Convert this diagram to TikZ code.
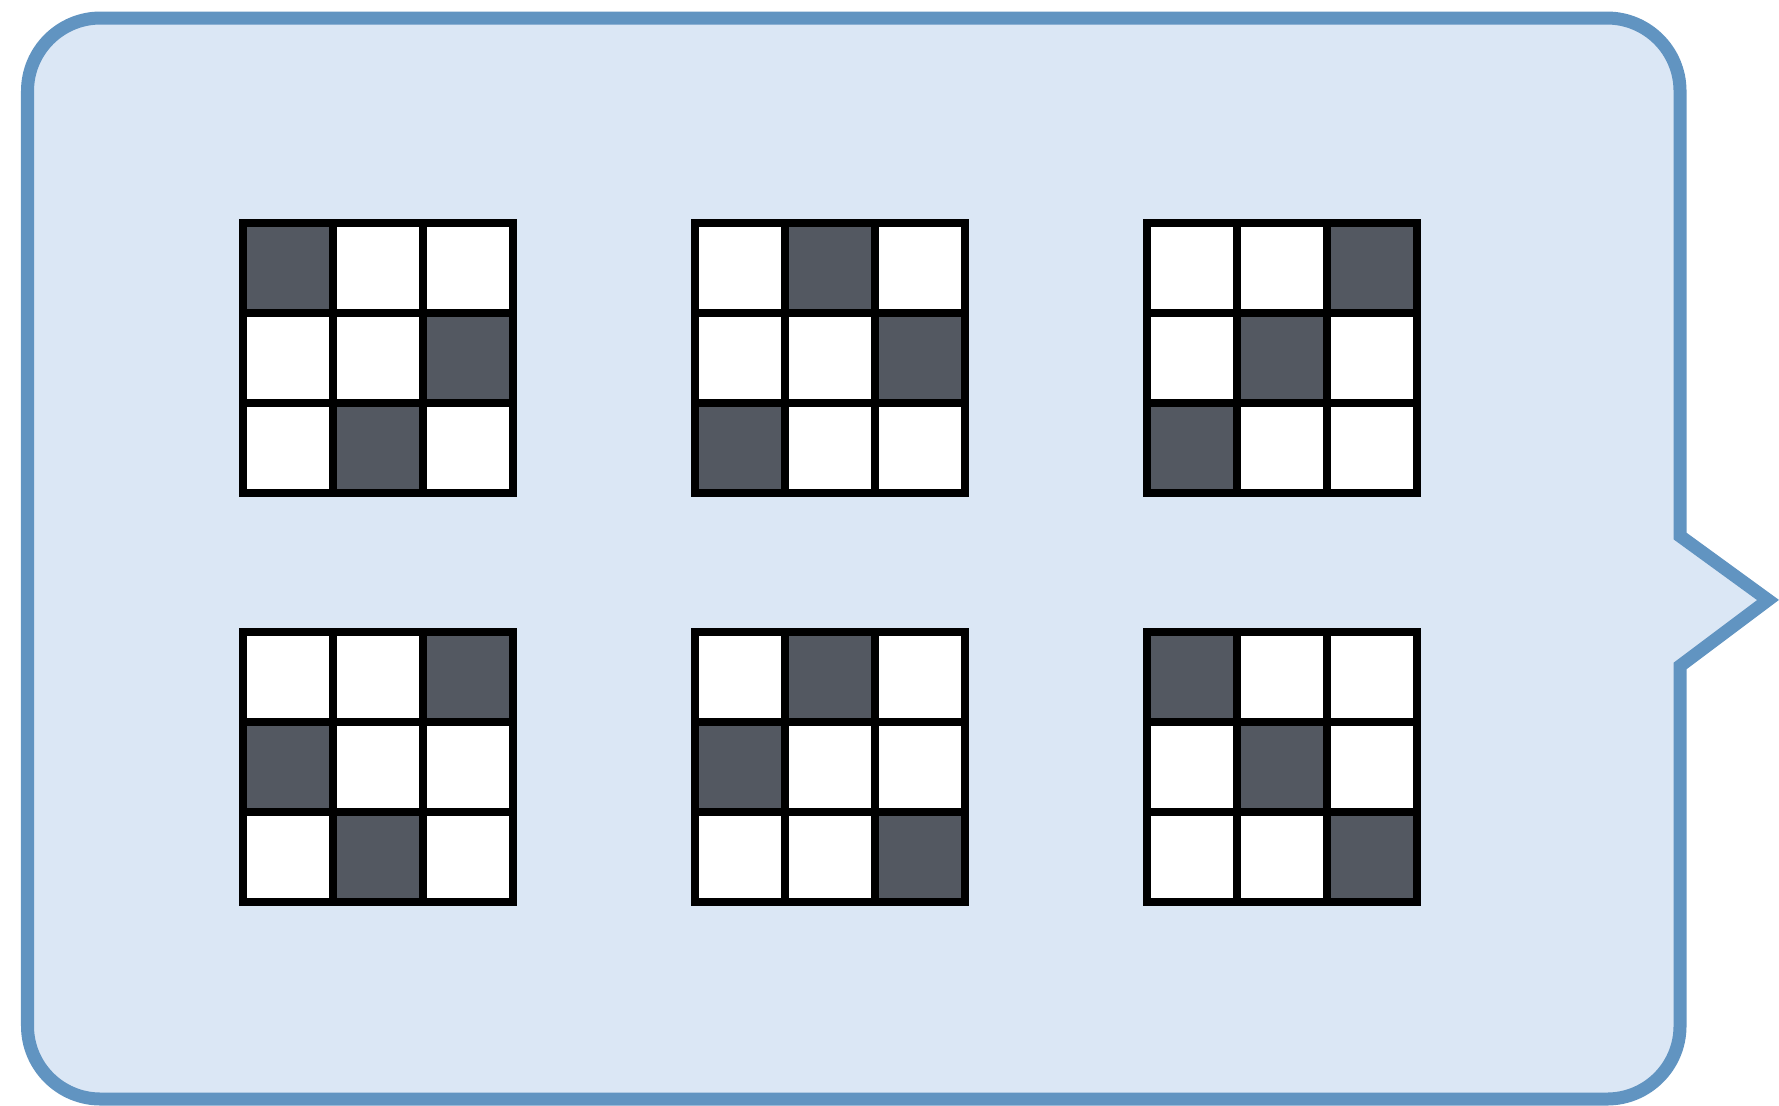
\documentclass[tikz,border=0pt]{standalone}
\usepackage{xcolor}
\definecolor{bubblefill}{RGB}{219,231,245}
\definecolor{bubbleline}{RGB}{97,148,193}
\definecolor{cellgray}{RGB}{83,88,97}
\tikzset{
  bubble/.style={fill=bubblefill, draw=bubbleline, line width=3.7pt},
  gridline/.style={draw=black, line width=2.3pt},
}
\begin{document}
\begin{tikzpicture}
        \useasboundingbox (0,0) rectangle (17.79,-11.05);
        % speech bubble with pointer on the right
        \draw[bubble] (16.80,-5.36) -- (16.80,-0.91)
              arc[start angle=0, end angle=90, radius=0.73] -- (1.005,-0.18)
              arc[start angle=90, end angle=180, radius=0.73] -- (0.275,-10.26)
              arc[start angle=180, end angle=270, radius=0.73] -- (16.07,-10.99)
              arc[start angle=270, end angle=360, radius=0.73] -- (16.80,-6.66)
              -- (17.68,-6.00) -- cycle;
        % six 3x3 grids, one dark cell per row (column given per row)
        \foreach \gx/\gy/\p/\q/\s in {2.43/-2.23/1/3/2, 6.95/-2.23/2/3/1,
                                      11.47/-2.23/3/2/1, 2.43/-6.32/3/1/2,
                                      6.95/-6.32/2/1/3, 11.47/-6.32/1/2/3} {
          \fill[white] (\gx,\gy) rectangle ++(2.7,-2.7);
          \foreach \col [count=\row from 0] in {\p,\q,\s} {
            \fill[cellgray] ({\gx+(\col-1)*0.9},{\gy-\row*0.9}) rectangle ++(0.9,-0.9);
          }
          \foreach \k in {1,2} {
            \draw[gridline] ({\gx+\k*0.9},\gy) -- ++(0,-2.7);
            \draw[gridline] (\gx,{\gy-\k*0.9}) -- ++(2.7,0);
          }
          \draw[gridline] (\gx,\gy) rectangle ++(2.7,-2.7);
        }
      \end{tikzpicture}
\end{document}
